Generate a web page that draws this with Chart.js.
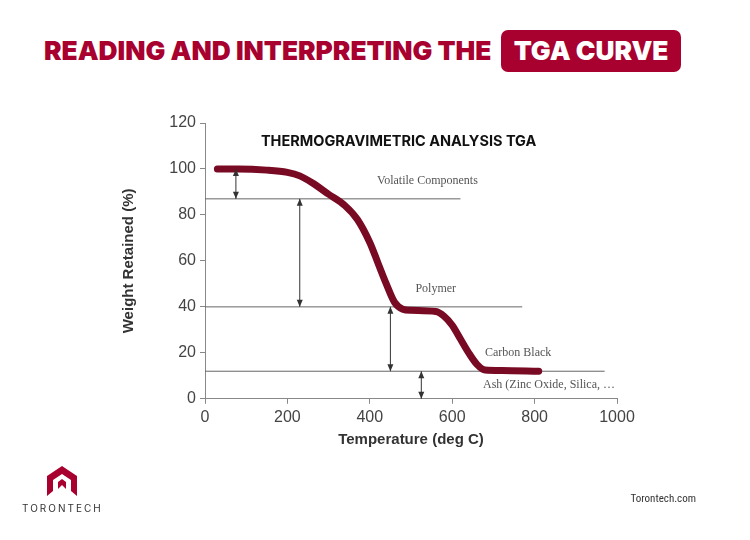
<!DOCTYPE html>
<html>
<head>
<meta charset="utf-8">
<script src="https://cdn.jsdelivr.net/npm/chart.js@4"></script>
<style>
  body { margin:0; width:750px; height:540px; background:#fff; position:relative; overflow:hidden; font-family:'Inter',sans-serif; }
  #c { position:absolute; left:0; top:0; }
  .head { position:absolute; top:30px; left:44px; font-weight:900; font-size:26.3px; color:#a8002f; white-space:nowrap; }
  .head span { display:inline-block; background:#a8002f; color:#fff; border-radius:7px; padding:5px 13px 6px; margin-left:4px; }
  .logo { position:absolute; left:22px; top:466px; text-align:center; }
  .logo div { font-size:10px; letter-spacing:2px; color:#333; margin-top:2px; }
  .site { position:absolute; right:54px; top:492px; font-size:11px; color:#333; font-family:'Roboto Condensed','Liberation Sans Narrow',sans-serif; }
</style>
</head>
<body>
<div class="head">READING AND INTERPRETING THE <span>TGA CURVE</span></div>
<canvas id="c" width="750" height="540"></canvas>
<div class="logo">
  <svg width="30" height="30" viewBox="0 0 30 30"><path d="M15 0 L30 10 L30 30 L24 25 L24 14 L15 8 Z M15 0 L0 10 L0 30 L6 25 L6 14 L15 8 Z M11 16 L15 13 L19 16 L19 23 L15 19 L11 23 Z" fill="#a8002f"/></svg>
  <div>TORONTECH</div>
</div>
<div class="site">Torontech.com</div>
<script>
// ---- data ----
const tempC   = [30, 80, 150, 200, 230, 260, 300, 340, 370, 400, 420, 440, 460, 480, 500, 560, 580, 600, 620, 640, 660, 680, 720, 810];
const weight  = [100, 100, 99.5, 98.5, 97, 94, 89, 84, 78, 68, 59, 50, 42, 39, 38.5, 38, 36, 32, 26, 20, 15, 12.5, 12.3, 12];
const yTicks  = [0, 20, 40, 60, 80, 100, 120];
const xTicks  = [0, 200, 400, 600, 800, 1000];

// reference levels: [y, xEnd]
const levelY    = [87, 40, 12];
const levelXEnd = [620, 770, 970];

// arrows: x, from, to
const arrowX    = [75, 230, 450, 525];
const arrowFrom = [100, 87, 40, 12];
const arrowTo   = [87, 40, 12, 0];

// labels
const labelText = ['Volatile Components', 'Polymer', 'Carbon Black', 'Ash (Zinc Oxide, Silica, \u2026'];
const labelX    = [540, 560, 760, 835];
const labelY    = [95, 48, 20, 6];

const levelSets = levelY.map((y, i) => ({
  data: [{x: 0, y: y}, {x: levelXEnd[i], y: y}],
  borderColor: '#666', borderWidth: 1, pointRadius: 0, fill: false
}));

const annoPlugin = {
  id: 'anno',
  afterDatasetsDraw(chart) {
    const {ctx, scales: {x, y}} = chart;
    ctx.save();
    ctx.strokeStyle = '#333'; ctx.fillStyle = '#333'; ctx.lineWidth = 1;
    arrowX.forEach((ax, i) => {
      const px = x.getPixelForValue(ax);
      const y1 = y.getPixelForValue(arrowFrom[i]), y2 = y.getPixelForValue(arrowTo[i]);
      ctx.beginPath(); ctx.moveTo(px, y1); ctx.lineTo(px, y2); ctx.stroke();
      [[y1, 1], [y2, -1]].forEach(([py, d]) => {
        ctx.beginPath(); ctx.moveTo(px, py); ctx.lineTo(px - 3, py + d * 7); ctx.lineTo(px + 3, py + d * 7); ctx.closePath(); ctx.fill();
      });
    });
    ctx.fillStyle = '#555';
    ctx.font = '12px "Liberation Serif", serif';
    ctx.textAlign = 'center'; ctx.textBaseline = 'middle';
    labelText.forEach((t, i) => ctx.fillText(t, x.getPixelForValue(labelX[i]), y.getPixelForValue(labelY[i])));
    ctx.fillStyle = '#111';
    ctx.font = 'bold 14.5px "Inter", sans-serif';
    ctx.fillText('THERMOGRAVIMETRIC ANALYSIS TGA', x.getPixelForValue(470), y.getPixelForValue(112));
    ctx.restore();
  }
};

new Chart(document.getElementById('c'), {
  type: 'line',
  data: {
    datasets: [{
      data: tempC.map((t, i) => ({x: t, y: weight[i]})),
      borderColor: '#780a24', borderWidth: 7, pointRadius: 0,
      cubicInterpolationMode: 'monotone', borderCapStyle: 'round'
    }, ...levelSets]
  },
  options: {
    responsive: false, animation: false,
    layout: { padding: {left: 120, top: 123, right: 133, bottom: 91} },
    plugins: { legend: {display: false}, tooltip: {enabled: false} },
    scales: {
      x: {
        type: 'linear', min: 0, max: 1000,
        afterBuildTicks: ax => { ax.ticks = xTicks.map(v => ({value: v})); },
        grid: { drawOnChartArea: false, tickLength: 5, color: '#888' },
        border: { color: '#888' },
        ticks: { color: '#444', font: {family: '"Liberation Sans", sans-serif', size: 16}, padding: 4, callback: v => String(v) },
        title: { display: true, text: 'Temperature (deg C)', color: '#333', font: {family: '"Liberation Sans", sans-serif', size: 15, weight: 'bold'}, padding: 0 }
      },
      y: {
        min: 0, max: 120,
        afterBuildTicks: ax => { ax.ticks = yTicks.map(v => ({value: v})); },
        afterFit: ax => { ax.width = 85; },
        grid: { drawOnChartArea: false, tickLength: 5, color: '#888' },
        border: { color: '#888' },
        ticks: { color: '#444', font: {family: '"Liberation Sans", sans-serif', size: 16}, padding: 4 },
        title: { display: true, text: 'Weight Retained (%)', color: '#333', font: {family: '"Liberation Sans", sans-serif', size: 15, weight: 'bold'}, padding: 0 }
      }
    }
  },
  plugins: [annoPlugin]
});
</script>
</body>
</html>
